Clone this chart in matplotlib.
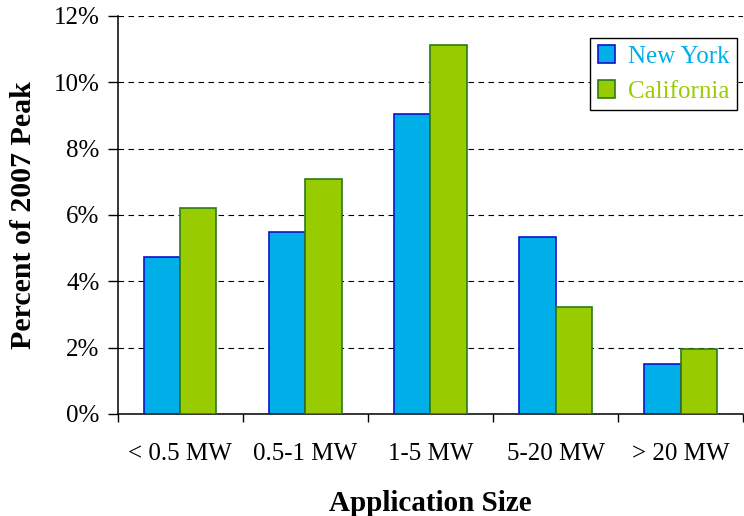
import matplotlib
matplotlib.use("Agg")
import matplotlib.pyplot as plt
import numpy as np
from matplotlib.ticker import FuncFormatter, MultipleLocator

categories = ["< 0.5 MW", "0.5-1 MW", "1-5 MW", "5-20 MW", "> 20 MW"]
new_york = [4.73, 5.49, 9.04, 5.34, 1.51]
california = [6.21, 7.08, 11.12, 3.23, 1.96]
series_names = ["New York", "California"]

plt.rcParams["font.family"] = ["Liberation Serif", "DejaVu Serif"]

fig = plt.figure(figsize=(7.44, 5.16), dpi=100)
ax = fig.add_axes([0.158, 0.198, 0.841, 0.771])

x = np.arange(len(categories))
w = 0.29
ny_face, ny_edge = "#00AEE8", "#1010D0"
ca_face, ca_edge = "#99CC00", "#2A7A1A"

ax.bar(x - w / 2, new_york, w, color=ny_face, edgecolor=ny_edge, linewidth=1.2,
       label=series_names[0], zorder=3)
ax.bar(x + w / 2, california, w, color=ca_face, edgecolor=ca_edge, linewidth=1.2,
       label=series_names[1], zorder=3)

ax.set_xlim(-0.5, len(categories) - 0.5)
ax.set_ylim(0, 12)
ax.yaxis.set_major_locator(MultipleLocator(2))
ax.yaxis.set_major_formatter(FuncFormatter(lambda v, p: f"{v:.0f}%"))
ax.yaxis.grid(True, color="black", linestyle=(0, (5, 4)), linewidth=0.8, zorder=0)
ax.set_axisbelow(True)

# x ticks sit on the category boundaries; labels are centred under each group
ax.set_xticks(np.arange(-0.5, len(categories) - 0.5 + 0.01, 1.0))
ax.set_xticklabels([])
ax.set_xticks(x, minor=True)
ax.set_xticklabels(categories, minor=True)
ax.tick_params(axis="x", which="minor", length=0, pad=21, labelsize=18)
ax.tick_params(axis="x", which="major", length=6, direction="out", width=1)
ax.tick_params(axis="y", length=7, direction="out", width=1, labelsize=18, pad=6)

for side in ("top", "right"):
    ax.spines[side].set_visible(False)
ax.spines["left"].set_linewidth(1.1)
ax.spines["bottom"].set_linewidth(1.1)

ax.set_xlabel("Application Size", fontsize=21, fontweight="bold", labelpad=18)
ax.set_ylabel("Percent of 2007 Peak", fontsize=21.5, fontweight="bold", labelpad=12)

leg = ax.legend(loc="upper right", bbox_to_anchor=(0.990, 0.945), borderaxespad=0,
                fontsize=18, frameon=True, fancybox=False, edgecolor="black",
                framealpha=1, handlelength=0.7, handleheight=0.7, handletextpad=0.5,
                borderpad=0.3, labelspacing=0.5)
leg.get_frame().set_linewidth(1.0)
for txt, col in zip(leg.get_texts(), [ny_face, ca_face]):
    txt.set_color(col)

fig.savefig("out.png", dpi=100)
